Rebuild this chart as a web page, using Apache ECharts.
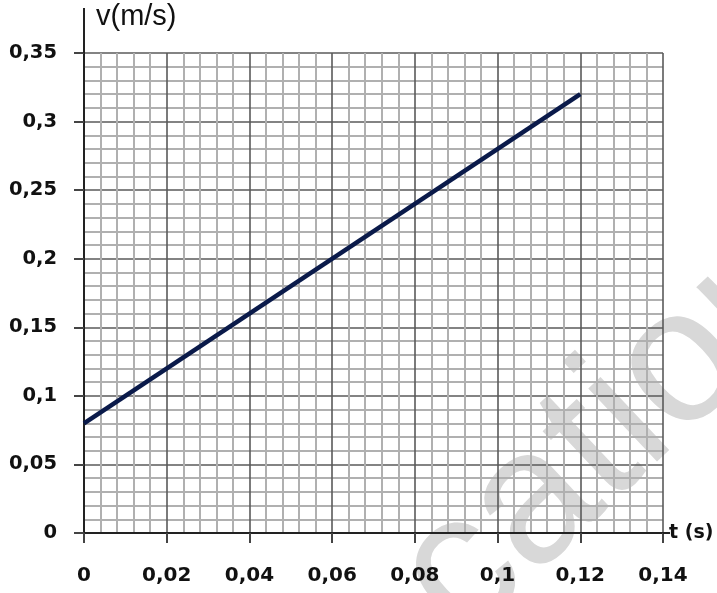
<!DOCTYPE html>
<html><head><meta charset="utf-8">
<script src="https://cdn.jsdelivr.net/npm/echarts@6/dist/echarts.min.js"></script>
<style>html,body{margin:0;padding:0;background:#fff}#c{width:717px;height:593px}</style>
</head><body><div id="c"></div>
<script>
const tValues = [0, 0.12];
const vValues = [0.08, 0.32];
const xTicks = [0, 0.02, 0.04, 0.06, 0.08, 0.1, 0.12, 0.14];
const yTicks = [0, 0.05, 0.1, 0.15, 0.2, 0.25, 0.3, 0.35];

const chart = echarts.init(document.getElementById('c'));
const fmt = v => String(+v.toFixed(4)).replace('.', ',');
chart.setOption({
  animation: false,
  grid: {left: 84, top: 53, width: 579, height: 480, containLabel: false},
  xAxis: {
    type: 'value', min: xTicks[0], max: xTicks[xTicks.length-1], interval: 0.02,
    axisLine: {show: true, lineStyle: {color: '#222', width: 2}},
    axisTick: {show: true, length: 10, lineStyle: {color: '#444', width: 2}},
    axisLabel: {fontSize: 20, margin: 33, formatter: fmt, fontFamily: 'DejaVu Sans', fontWeight: 'bold', color: '#111'},
    splitLine: {show: true, lineStyle: {color: '#5a5a5a', width: 1.6}},
    minorTick: {show: false, splitNumber: 5},
    minorSplitLine: {show: true, lineStyle: {color: '#b0b0b0', width: 2}},
    name: 't (s)', nameLocation: 'end', nameGap: 6,
    nameTextStyle: {fontSize: 19, fontFamily: 'DejaVu Sans', fontWeight: 'bold', color: '#111'}
  },
  yAxis: {
    type: 'value', min: yTicks[0], max: yTicks[yTicks.length-1], interval: 0.05,
    axisLine: {show: true, lineStyle: {color: '#222', width: 2}},
    axisTick: {show: true, length: 10, lineStyle: {color: '#444', width: 2}},
    axisLabel: {fontSize: 19.5, margin: 27, formatter: fmt, fontFamily: 'DejaVu Sans', fontWeight: 'bold', color: '#111'},
    splitLine: {show: true, lineStyle: {color: '#5a5a5a', width: 1.6}},
    minorTick: {show: false, splitNumber: 5},
    minorSplitLine: {show: true, lineStyle: {color: '#b0b0b0', width: 2}}
  },
  series: [{
    type: 'line', data: tValues.map((t, i) => [t, vValues[i]]),
    symbol: 'none', lineStyle: {color: '#0a1a4a', width: 4.5}, z: 5
  }]
});
const p0 = chart.convertToPixel({gridIndex: 0}, [xTicks[0], yTicks[yTicks.length-1]]);
const pEnd = chart.convertToPixel({gridIndex: 0}, [xTicks[xTicks.length-1], yTicks[0]]);
chart.setOption({
  graphic: [
    {type: 'line', shape: {x1: p0[0], y1: p0[1], x2: p0[0], y2: p0[1] - 45}, style: {stroke: '#222', lineWidth: 2}, z: 10},
    {type: 'line', shape: {x1: pEnd[0], y1: pEnd[1], x2: pEnd[0] + 7, y2: pEnd[1]}, style: {stroke: '#222', lineWidth: 2}, z: 10},
    {type: 'text', left: p0[0] + 12, top: 2, style: {text: 'v(m/s)', font: '29px "Liberation Sans", Arial', fill: '#111'}, z: 10},
    {type: 'text', x: 612, y: 432, rotation: Math.PI * 0.24, z: -1,
     style: {text: 'cation', font: '190px "Liberation Sans", Arial', fill: '#d8d8d8', textAlign: 'center', textVerticalAlign: 'middle'}}
  ]
});
</script></body></html>
